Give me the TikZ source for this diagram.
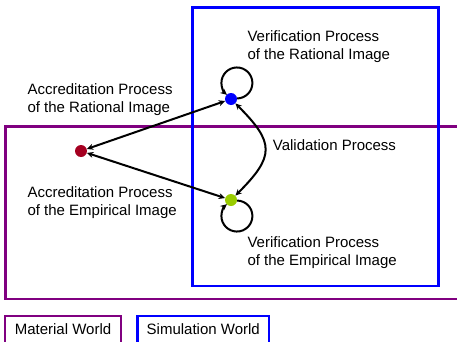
\documentclass[tikz,border=0pt]{standalone}
\usepackage{fontspec}
\setmainfont{Liberation Sans}
\usetikzlibrary{arrows.meta}

\definecolor{worldblue}{RGB}{0,0,255}
\definecolor{worldpurple}{RGB}{128,0,128}
\definecolor{dotred}{RGB}{165,0,33}
\definecolor{dotgreen}{RGB}{153,204,0}

\tikzset{
  % base anchor of a two-line label sits on its last line
  lbl/.style={font=\fontsize{15}{18}\selectfont, align=left, inner sep=0pt, anchor=base west},
  worldbox/.style={line width=2.2pt},
  legendbox/.style={draw, line width=2.2pt, font=\fontsize{15}{18}\selectfont,
    minimum height=27pt, inner sep=0pt},
  dot/.style={circle, minimum size=12pt, inner sep=0pt},
  link/.style={line width=2pt, -{Stealth[length=6.5pt,width=6pt]}},
  dlink/.style={line width=2pt, {Stealth[length=6.5pt,width=6pt]}-{Stealth[length=6.5pt,width=6pt]}},
}

\begin{document}
\begin{tikzpicture}[x=1pt, y=1pt]
  \clip (0,0) rectangle (457,341);

  % the two worlds
  \draw[worldbox, worldpurple] (5.5,42) rectangle (470,214.5);
  \draw[worldbox, worldblue] (192.5,55) rectangle (438.5,333.5);

  % images
  \node[dot, fill=worldblue] (rat) at (231,242) {};
  \node[dot, fill=dotgreen] (emp) at (231,141) {};
  \node[dot, fill=dotred] (mat) at (81,190) {};

  % processes: self loops as near-full circles
  \draw[link] (rat.5) arc[start angle=-89, end angle=230, radius=15.5];
  \draw[link] (emp.-5) arc[start angle=89, end angle=-230, radius=15.5];
  \draw[dlink] (rat) to[out=-45, in=45, looseness=1.55] (emp);
  \draw[dlink] (mat) -- (rat);
  \draw[dlink] (mat) -- (emp);

  % labels
  \node[lbl] (vr) at (247.3,281.5) {Verification Process\\of the Rational Image};
  \node[lbl] (ar) at (27.3,228.5) {Accreditation Process\\of the Rational Image};
  \node[lbl] (va) at (272.7,191) {Validation Process};
  \node[lbl] (ae) at (27.3,125.7) {Accreditation Process\\of the Empirical Image};
  \node[lbl] (ve) at (247.3,75.3) {Verification Process\\of the Empirical Image};

  % legend
  \node[legendbox, draw=worldpurple, minimum width=116pt] (mw) at (63,11.5) {Material World};
  \node[legendbox, draw=worldblue, minimum width=131.5pt] (sw) at (203.25,11.5) {Simulation World};
\end{tikzpicture}
\end{document}
